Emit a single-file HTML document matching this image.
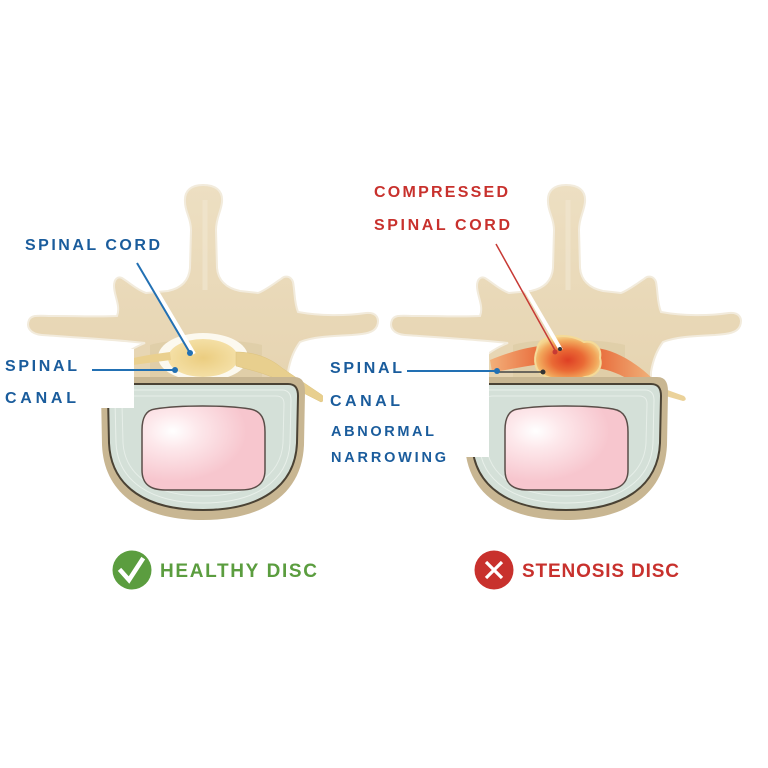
<!DOCTYPE html>
<html><head><meta charset="utf-8"><style>
html,body{margin:0;padding:0;background:#fff;}
svg{display:block;}
text{font-family:"Liberation Sans",Arial,sans-serif;font-weight:bold;}
</style></head><body>
<svg width="768" height="768" viewBox="0 0 768 768" xmlns="http://www.w3.org/2000/svg">
<defs>
  <linearGradient id="bone" x1="0" y1="0" x2="0" y2="1">
    <stop offset="0" stop-color="#eddfc2"/>
    <stop offset="1" stop-color="#e6d4b1"/>
  </linearGradient>
  <radialGradient id="nuc" cx="0.25" cy="0.3" r="0.6">
    <stop offset="0" stop-color="#ffffff"/>
    <stop offset="0.35" stop-color="#fde8eb"/>
    <stop offset="1" stop-color="#f7c6ce"/>
  </radialGradient>
  <radialGradient id="cord" cx="0.5" cy="0.5" r="0.6">
    <stop offset="0" stop-color="#ebcd80"/>
    <stop offset="1" stop-color="#f6e3ad"/>
  </radialGradient>
  <radialGradient id="red" cx="0.5" cy="0.55" r="0.55">
    <stop offset="0" stop-color="#de3f24"/>
    <stop offset="0.45" stop-color="#ea6a35"/>
    <stop offset="0.8" stop-color="#f2a85c"/>
    <stop offset="1" stop-color="#f4d48e"/>
  </radialGradient>
  <linearGradient id="wingL" x1="0" y1="0" x2="1" y2="0">
    <stop offset="0" stop-color="#f3b07a"/>
    <stop offset="1" stop-color="#e86a3a"/>
  </linearGradient>
  <linearGradient id="wingR" x1="0" y1="0" x2="1" y2="0">
    <stop offset="0" stop-color="#e86a3a"/>
    <stop offset="1" stop-color="#f0b27a"/>
  </linearGradient>
  <g id="vert">
    <path d="M 203 185 C 215 185, 223 190, 222 202 C 221 212, 216 218, 216 230 L 217 268 C 218 280, 226 288, 240 291 L 258 293 C 266 290, 276 282, 281 279 C 285 275, 291 276, 293 282 C 295 292, 294 302, 298 312 C 320 316, 345 316, 366 313 C 376 312, 380 318, 377 326 C 374 333, 365 334, 352 335 C 330 336, 312 337, 300 342 C 294 350, 290 360, 288 372 L 288 382 L 118 382 L 118 360 C 126 352, 135 347, 145 343 C 120 340, 70 337, 42 335 C 30 334, 26 327, 29 320 C 32 314, 40 316, 55 316 C 80 316, 100 317, 117 316 C 121 306, 114 296, 114 286 C 114 279, 118 276, 122 278 C 130 283, 137 290, 146 293 L 168 291 C 182 288, 189 280, 190 268 L 191 230 C 191 218, 185 212, 185 202 C 184 190, 192 185, 203 185 Z" fill="url(#bone)" stroke="#f2ebdc" stroke-width="2"/>
    <path d="M 205 200 L 205 290" stroke="#f1e6cf" stroke-width="5" opacity="0.7"/>
    <path d="M 150 345 C 170 338, 235 338, 262 345 L 262 380 L 150 380 Z" fill="#dccaa2" opacity="0.6"/>
  </g>
  <g id="body">
    <path d="M 112 377 L 294 377 C 302 377, 305 382, 305 392 L 304 445 C 302 495, 262 520, 203 520 C 144 520, 104 495, 102 445 L 101 392 C 101 382, 104 377, 112 377 Z" fill="#c8b692"/>
    <path d="M 118 384 L 288 384 C 295 384, 298 388, 298 396 L 297 443 C 295 488, 258 510, 203 510 C 148 510, 111 488, 109 443 L 108 396 C 108 388, 111 384, 118 384 Z" fill="#d4e0d8" stroke="#4a4234" stroke-width="2"/>
    <path d="M 124 390 L 282 390 C 288 390, 291 394, 291 400 L 290 443 C 288 482, 254 503, 203 503 C 152 503, 118 482, 116 443 L 115 400 C 115 394, 118 390, 124 390 Z" fill="none" stroke="#eef4ef" stroke-width="1" opacity="0.8"/>
    <path d="M 130 396 L 276 396 C 282 396, 284 399, 284 404 L 283 443 C 281 476, 250 496, 203 496 C 156 496, 125 476, 123 443 L 122 404 C 122 399, 124 396, 130 396 Z" fill="none" stroke="#eef4ef" stroke-width="1" opacity="0.7"/>
    <path d="M 155 409 C 180 405, 225 405, 250 409 C 262 411, 265 420, 265 432 L 265 470 C 265 485, 255 490, 240 490 C 220 490, 185 490, 165 490 C 150 490, 142 484, 142 470 L 142 430 C 142 418, 146 410, 155 409 Z" fill="url(#nuc)" stroke="#5a4d48" stroke-width="1.5"/>
  </g>
</defs>

<!-- LEFT (healthy) -->
<use href="#vert"/>
<ellipse cx="203" cy="357" rx="45" ry="24" fill="#fcf9ef"/>
<ellipse cx="203" cy="358" rx="35" ry="19" fill="url(#cord)"/>
<path d="M 126 360 C 140 356, 155 354, 170 352 L 171 360 C 155 362, 140 364, 127 366 Z" fill="#ead08f"/>
<path d="M 236 352 C 255 352, 270 358, 282 368 L 322 395 Q 327 400 321 402 L 278 380 C 265 373, 250 370, 236 366 Z" fill="#e8cf8e" stroke="#dcc27c" stroke-width="0.5"/>
<use href="#body"/>

<!-- RIGHT (stenosis) -->
<g transform="translate(363,0)"><use href="#vert"/></g>
<path d="M 490 360 C 505 354, 522 348, 540 346 L 542 364 C 525 366, 508 370, 492 372 Z" fill="url(#wingL)"/>
<path d="M 596 348 C 615 350, 635 362, 652 378 L 646 392 C 632 380, 615 370, 596 368 Z" fill="url(#wingR)"/>
<path d="M 640 380 L 684 396 Q 688 400 683 401 L 638 388 Z" fill="#ebd29a"/>
<path d="M 548 338 C 560 334, 575 336, 584 342 C 594 340, 602 348, 600 358 C 603 368, 596 376, 585 377 C 575 381, 555 381, 545 376 C 535 372, 533 360, 537 350 C 538 343, 542 339, 548 338 Z" fill="url(#red)" stroke="#f4da98" stroke-width="2"/>
<g transform="translate(363,0)"><use href="#body"/></g>

<!-- label boxes -->
<rect x="0" y="349" width="134" height="59" fill="#fff"/>
<rect x="323" y="351" width="166" height="106" fill="#fff"/>

<!-- leaders -->
<line x1="140" y1="263" x2="194" y2="354" stroke="#fff" stroke-width="4"/>
<line x1="137" y1="263" x2="190" y2="353" stroke="#2270b3" stroke-width="2"/>
<circle cx="190" cy="353" r="3" fill="#2270b3"/>
<line x1="92" y1="370" x2="175" y2="370" stroke="#2270b3" stroke-width="2"/>
<circle cx="175" cy="370" r="3" fill="#2270b3"/>

<line x1="499" y1="244" x2="561" y2="350" stroke="#fff" stroke-width="4"/>
<line x1="496" y1="244" x2="556" y2="352" stroke="#c73a35" stroke-width="1.5"/>
<circle cx="555" cy="352" r="2.5" fill="#c73a35"/>
<circle cx="560" cy="349" r="2" fill="#333"/>
<line x1="407" y1="371" x2="497" y2="371" stroke="#2270b3" stroke-width="2"/>
<line x1="497" y1="372" x2="543" y2="372" stroke="#444" stroke-width="1.5"/>
<circle cx="497" cy="371" r="3" fill="#2270b3"/>
<circle cx="543" cy="372" r="2.5" fill="#333"/>

<!-- labels -->
<g fill="#1a5c9c" font-size="16">
  <text x="25" y="250" textLength="135" lengthAdjust="spacing">SPINAL CORD</text>
  <text x="5" y="371" textLength="72" lengthAdjust="spacing">SPINAL</text>
  <text x="5" y="403" textLength="71" lengthAdjust="spacing">CANAL</text>
  <text x="330" y="373" textLength="72" lengthAdjust="spacing">SPINAL</text>
  <text x="330" y="406" textLength="70" lengthAdjust="spacing">CANAL</text>
  <text x="331" y="436" font-size="14.5" textLength="103" lengthAdjust="spacing">ABNORMAL</text>
  <text x="331" y="462" font-size="14.5" textLength="115" lengthAdjust="spacing">NARROWING</text>
</g>
<g fill="#c8312d" font-size="16">
  <text x="374" y="197" textLength="134" lengthAdjust="spacing">COMPRESSED</text>
  <text x="374" y="230" textLength="136" lengthAdjust="spacing">SPINAL CORD</text>
</g>

<!-- bottom legend -->
<circle cx="132" cy="570" r="19.5" fill="#5b9d3f"/>
<path d="M 121 571 L 129 580 L 142 560" fill="none" stroke="#fff" stroke-width="4.5" stroke-linecap="square"/>
<text x="160" y="577" font-size="19" fill="#5b9d3f" textLength="157" lengthAdjust="spacing">HEALTHY DISC</text>
<circle cx="494" cy="570" r="19.5" fill="#c8312d"/>
<path d="M 486 562 L 502 578 M 502 562 L 486 578" stroke="#fff" stroke-width="3.2"/>
<text x="522" y="577" font-size="19" fill="#c8312d" textLength="157" lengthAdjust="spacing">STENOSIS DISC</text>
</svg>
</body></html>
